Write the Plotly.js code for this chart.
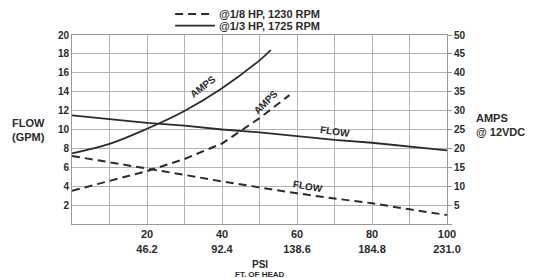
<!DOCTYPE html>
<html><head><meta charset="utf-8">
<script src="https://cdn.plot.ly/plotly-3.0.1.min.js"></script>
<style>html,body{margin:0;padding:0;background:#fff}</style>
</head><body><div id="chart" style="width:537px;height:278px"></div>
<script>
// PSI values (x axis)
const psi = [0,10,20,30,40,50,60,70,80,90,100];
// FLOW (GPM), left axis
const flowThird  = [11.5,11.1,10.7,10.4,10.0,9.7,9.3,8.9,8.6,8.2,7.8];
const flowEighth = [7.2,6.55,5.9,5.2,4.5,3.85,3.25,2.7,2.2,1.55,0.95];
// AMPS @ 12VDC, right axis
const ampsPsiThird  = [0,10,20,30,40,50,53];
const ampsThird     = [18.7,21.2,25.2,29.9,35.9,43.3,46];
const ampsPsiEighth = [0,10,20,30,40,50,58];
const ampsEighth    = [8.8,11.4,14.0,17.2,21.3,28.0,34.1];
// tick labels
const xTickVals = [0,10,20,30,40,50,60,70,80,90,100];
const xTickText = ['','','20<br>46.2','','40<br>92.4','','60<br>138.6','','80<br>184.8','','100<br>231.0'];
const yTickVals = [0,2,4,6,8,10,12,14,16,18,20];
const yTickText = ['','2','4','6','8','10','12','14','16','18','20'];
const y2TickVals = [0,5,10,15,20,25,30,35,40,45,50];
const y2TickText = ['','5','10','15','20','25','30','35','40','45','50'];
const legendNames = ['@1/8 HP, 1230 RPM','@1/3 HP, 1725 RPM'];

const ink = '#2b2b2b';
const F = 'Liberation Sans, Arial, sans-serif';
const dashed = {color: ink, width: 2, dash: '8px,5px'};
const solid = {color: ink, width: 1.8};
const bold = arr => arr.map(t => t ? '<b>' + t + '</b>' : '');

const traces = [
  {x: psi, y: flowEighth, mode: 'lines', line: dashed, yaxis: 'y', showlegend: false},
  {x: ampsPsiEighth, y: ampsEighth, mode: 'lines', line: dashed, yaxis: 'y2', showlegend: false},
  {x: psi, y: flowThird, mode: 'lines', line: solid, yaxis: 'y', showlegend: false},
  {x: ampsPsiThird, y: ampsThird, mode: 'lines', yaxis: 'y2', showlegend: false, line: Object.assign({shape: 'spline'}, solid)}
];

const lab = (x, y, t, ang, ref) => ({x: x, y: y, xref: 'x', yref: ref || 'y', text: '<b>' + t + '</b>', showarrow: false,
  textangle: ang, font: {family: F, size: 10, color: ink}});

const layout = {
  width: 537, height: 278,
  margin: {l: 72, r: 90, t: 35, b: 54},
  paper_bgcolor: '#fff', plot_bgcolor: '#fff',
  showlegend: false,
  font: {family: F, color: ink},
  xaxis: {range: [0, 100], tickvals: xTickVals, ticktext: bold(xTickText), showgrid: true, gridcolor: '#b3b3b3', gridwidth: 1,
    showline: true, linecolor: '#999', mirror: true, zeroline: false, ticks: '',
    tickfont: {family: F, size: 11, color: ink}},
  yaxis: {range: [0, 20], tickvals: yTickVals, ticktext: bold(yTickText), showgrid: true, gridcolor: '#b3b3b3', gridwidth: 1,
    showline: true, linecolor: '#999', zeroline: false, ticks: '',
    tickfont: {family: F, size: 10, color: ink}},
  yaxis2: {range: [0, 50], tickvals: y2TickVals, ticktext: bold(y2TickText), overlaying: 'y', side: 'right', showgrid: false,
    showline: true, linecolor: '#999', zeroline: false, ticks: 'outside', ticklen: 4, tickcolor: '#999',
    tickfont: {family: F, size: 10, color: ink}},
  shapes: [
    {type: 'line', xref: 'paper', yref: 'paper', x0: 0.275, x1: 0.376, y0: 1.111, y1: 1.111, line: dashed},
    {type: 'line', xref: 'paper', yref: 'paper', x0: 0.275, x1: 0.381, y0: 1.050, y1: 1.050, line: solid}
  ],
  annotations: [
    {xref: 'paper', yref: 'paper', x: 0.387, y: 1.111, xanchor: 'left', yanchor: 'middle', showarrow: false,
      text: '<b>' + legendNames[0] + '</b>', font: {family: F, size: 11, color: ink}},
    {xref: 'paper', yref: 'paper', x: 0.387, y: 1.050, xanchor: 'left', yanchor: 'middle', showarrow: false,
      text: '<b>' + legendNames[1] + '</b>', font: {family: F, size: 11, color: ink}},
    {xref: 'paper', yref: 'paper', x: -0.117, y: 0.50, xanchor: 'center', yanchor: 'middle', showarrow: false, align: 'left',
      text: '<b>FLOW<br>(GPM)</b>', font: {family: F, size: 11, color: ink}},
    {xref: 'paper', yref: 'paper', x: 1.072, y: 0.525, xanchor: 'left', yanchor: 'middle', showarrow: false, align: 'left',
      text: '<b>AMPS<br>@ 12VDC</b>', font: {family: F, size: 11, color: ink}},
    {xref: 'paper', yref: 'paper', x: 0.5, y: -0.215, xanchor: 'center', yanchor: 'middle', showarrow: false,
      text: '<b>PSI</b>', font: {family: F, size: 10, color: ink}},
    {xref: 'paper', yref: 'paper', x: 0.5, y: -0.265, xanchor: 'center', yanchor: 'middle', showarrow: false,
      text: '<b>FT. OF HEAD</b>', font: {family: F, size: 8, color: ink}},
    lab(34.9, 14.6, 'AMPS', -38),
    lab(51.5, 12.9, 'AMPS', -45),
    lab(70.1, 9.75, 'FLOW', 8),
    lab(63, 4.0, 'FLOW', 10)
  ]
};

Plotly.newPlot('chart', traces, layout, {displayModeBar: false, staticPlot: true});
</script>
</body></html>
